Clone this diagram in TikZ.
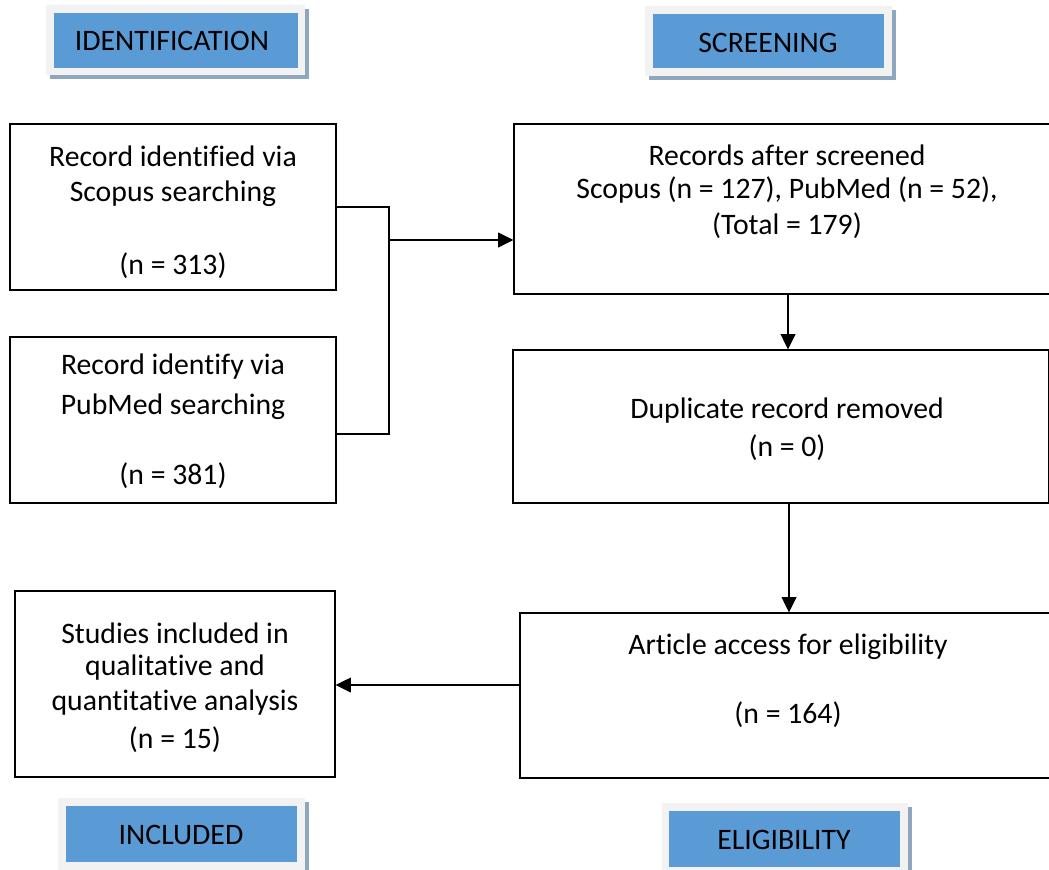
\documentclass[tikz,border=0pt]{standalone}
\usepackage{fontspec}
\setmainfont{Carlito}[RawFeature={-liga;-clig;-calt;-dlig}]
\usetikzlibrary{arrows.meta}
\definecolor{hblue}{HTML}{5B9BD5}
\definecolor{hgray}{HTML}{F2F2F2}
\definecolor{hshadow}{HTML}{8EA7BF}
\tikzset{
  box/.style={draw=black, line width=0.9pt, inner sep=0pt},
  txt/.style={font=\fontsize{22.3}{26}\selectfont, inner sep=0pt},
  conn/.style={line width=1.4pt, draw=black},
  arr/.style={conn, -{Triangle[length=11.5pt,width=11pt]}},
}
\newcommand{\header}[9]{%
  % #1 name, #2-#5 outer x1 y1 x2 y2, #6-#9 inner x1 y1 x2 y2
  \fill[hshadow] ({#2+4},{#3+4}) rectangle ({#4+4},{#5+4});
  \fill[hgray] (#2,#3) rectangle (#4,#5);
  \fill[hblue] (#6,#7) rectangle (#8,#9);
  \coordinate (#1) at ({(#6+#8)/2},{(#7+#9)/2});
}
\begin{document}
\begin{tikzpicture}[x=0.75pt,y=-0.75pt]
\useasboundingbox (0,0) rectangle (1049,870);
\begin{scope}
\clip (0,0) rectangle (1049,870);
% headers
\header{hid}{46}{5}{305}{75}{54}{13}{298}{68}
\node[txt] (hidt) at (172,41) {IDENTIFICATION};
\header{hsc}{645}{6}{892}{76}{653}{14}{884}{68}
\node[txt] (hsct) at (768,43) {SCREENING};
\header{hin}{58}{798}{305}{880}{66}{806}{297}{862}
\node[txt] (hint) at (181,835) {INCLUDED};
\header{hel}{662}{803}{908}{880}{669}{811}{900}{867}
\node[txt] (helt) at (784,840) {ELIGIBILITY};

% boxes
\node[box, minimum width=326*0.75pt, minimum height=166*0.75pt] (A) at (173,207) {};
\node[box, minimum width=326*0.75pt, minimum height=166*0.75pt] (B) at (173,420) {};
\node[box, minimum width=536*0.75pt, minimum height=170*0.75pt] (C) at (782,209) {};
\node[box, minimum width=536*0.75pt, minimum height=153*0.75pt] (D) at (781,426.5) {};
\node[box, minimum width=530*0.75pt, minimum height=165*0.75pt] (E) at (785,695.5) {};
\node[box, minimum width=320*0.75pt, minimum height=186*0.75pt] (F) at (175,684) {};
\end{scope}

% texts
\node[txt] at (173,156) {Record identified via};
\node[txt] at (173,194) {Scopus searching};
\node[txt] at (173,266) {(n = 313)};
\node[txt] at (173,367) {Record identify via};
\node[txt] at (173,407) {PubMed searching};
\node[txt] at (173,476) {(n = 381)};
\node[txt] at (787,155) {Records after screened};
\node[txt] at (787,190) {Scopus (n = 127), PubMed (n = 52),};
\node[txt] at (787,226) {(Total = 179)};
\node[txt] at (787,411) {Duplicate record removed};
\node[txt] at (787,448) {(n = 0)};
\node[txt] at (788,647) {Article access for eligibility};
\node[txt] at (788,715) {(n = 164)};
\node[txt] at (175,633) {Studies included in};
\node[txt] at (175,668) {qualitative and};
\node[txt] at (175,703) {quantitative analysis};
\node[txt] at (175,740) {(n = 15)};

% connectors
\coordinate (j1) at (389,207);
\coordinate (j2) at (389,434);
\coordinate (jm) at (389,240);
\draw[conn] (A.east |- j1) -- (j1) -- (j2) -- (B.east |- j2);
\draw[arr] (jm) -- (C.west |- jm);
\draw[arr] (C.south -| 788,0) -- (D.north -| 788,0);
\draw[arr] (D.south -| 789,0) -- (E.north -| 789,0);
\draw[arr] (E.west |- 0,685) -- (F.east |- 0,685);
\end{tikzpicture}
\end{document}
